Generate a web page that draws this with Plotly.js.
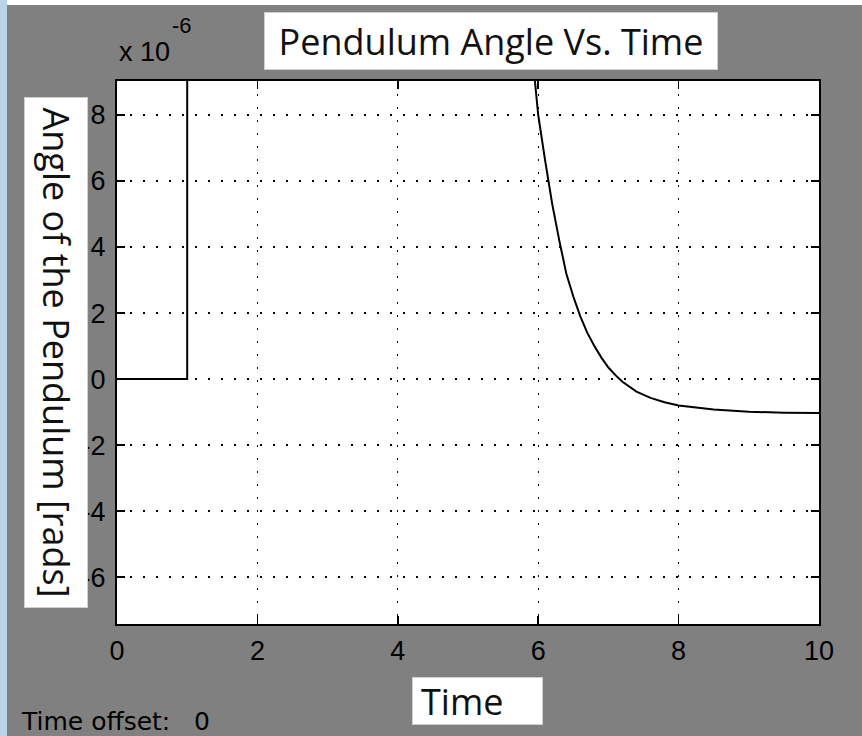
<!DOCTYPE html>
<html>
<head>
<meta charset="utf-8">
<script src="https://cdn.plot.ly/plotly-3.0.1.min.js"></script>
<style>
  html, body { margin: 0; padding: 0; width: 862px; height: 736px; overflow: hidden; background: #ffffff; }
  #strip { position: absolute; left: 0; top: 0; width: 7px; height: 736px; background: #bcd3ec; }
  #chart { position: absolute; left: 7px; top: 5px; width: 855px; height: 731px; }
</style>
</head>
<body>
<div id="strip"></div>
<div id="chart"></div>
<script>
// Time [s] and pendulum angle [x 1e-6 rad]
const stepTime  = [0, 1, 1];
const stepAngle = [0, 0, 12];
const curveTime  = [5.95, 6.0, 6.1, 6.2, 6.3, 6.4, 6.5, 6.6, 6.7, 6.8, 6.9, 7.0, 7.1, 7.2, 7.4, 7.6, 7.8, 8.0, 8.5, 9.0, 9.5, 10];
const curveAngle = [9.1, 8.0, 6.6, 5.3, 4.2, 3.2, 2.5, 1.9, 1.4, 1.0, 0.65, 0.35, 0.12, -0.08, -0.38, -0.57, -0.7, -0.8, -0.92, -0.99, -1.02, -1.03];
const xTicks = [0, 2, 4, 6, 8, 10];
const xTickLabels = ['0', '2', '4', '6', '8', '10'];
const yTicks = [-6, -4, -2, 0, 2, 4, 6, 8];
const yTickLabels = ['-6', '-4', '-2', '0', '2', '4', '6', '8'];

const lineStyle = { color: '#000000', width: 2 };
const traces = [
  { x: stepTime, y: stepAngle, mode: 'lines', line: lineStyle, hoverinfo: 'skip' },
  { x: curveTime, y: curveAngle, mode: 'lines', line: lineStyle, hoverinfo: 'skip' }
];

const tickFont = { family: 'Liberation Sans, Arial, sans-serif', size: 27, color: '#000000' };
const boxFont = { family: 'Open Sans, Noto Sans, sans-serif', size: 36, color: '#111111' };

const axisCommon = {
  showline: true, linecolor: '#000000', linewidth: 2, mirror: 'ticks',
  ticks: 'inside', ticklen: 8, tickwidth: 1.5, tickcolor: '#000000',
  showgrid: true, gridcolor: '#000000', gridwidth: 1.3, griddash: '2px,11px',
  zeroline: false, tickfont: tickFont, fixedrange: true
};

const layout = {
  width: 855, height: 731,
  margin: { l: 110, r: 43, t: 76, b: 112 },
  paper_bgcolor: '#808080', plot_bgcolor: '#ffffff',
  showlegend: false,
  xaxis: Object.assign({}, axisCommon, {
    range: [0, 10], tickvals: xTicks, ticktext: xTickLabels, ticklabelstandoff: 2
  }),
  yaxis: Object.assign({}, axisCommon, {
    range: [-7.42, 9.03], tickvals: yTicks, ticktext: yTickLabels, ticklabelstandoff: 4
  }),
  annotations: [
    { text: 'Pendulum Angle Vs. Time', xref: 'paper', yref: 'paper',
      x: (491 - 117) / 702, y: 1 + (81 - 41) / 543, xanchor: 'center', yanchor: 'middle',
      showarrow: false, font: boxFont, bgcolor: '#ffffff', bordercolor: '#d0d0d0', borderwidth: 1,
      width: 450, height: 54 },
    { text: 'Angle of the Pendulum [rads]', xref: 'paper', yref: 'paper',
      x: (56.5 - 117) / 702, y: (624 - 352.5) / 543, xanchor: 'center', yanchor: 'middle',
      textangle: 90, showarrow: false, font: boxFont, bgcolor: '#ffffff', bordercolor: '#d0d0d0', borderwidth: 1,
      width: 507, height: 60 },
    { text: 'Time', xref: 'paper', yref: 'paper',
      x: (477.5 - 117) / 702, y: -(701 - 624) / 543, xanchor: 'center', yanchor: 'middle',
      showarrow: false, font: boxFont, bgcolor: '#ffffff', bordercolor: '#d0d0d0', borderwidth: 1,
      align: 'left', width: 113, height: 30, borderpad: 8 },
    { text: 'x 10', xref: 'paper', yref: 'paper',
      x: (117 - 117) / 702, y: 1 + (81 - 52) / 543, xanchor: 'left', yanchor: 'middle',
      showarrow: false, font: { family: 'Liberation Sans, Arial, sans-serif', size: 27, color: '#000000' } },
    { text: '-6', xref: 'paper', yref: 'paper',
      x: (170 - 117) / 702, y: 1 + (81 - 25) / 543, xanchor: 'left', yanchor: 'middle',
      showarrow: false, font: { family: 'Liberation Sans, Arial, sans-serif', size: 22, color: '#000000' } },
    { text: 'Time offset:\u00a0\u00a0\u00a00', xref: 'paper', yref: 'paper',
      x: (19 - 117) / 702, y: -(721 - 624) / 543, xanchor: 'left', yanchor: 'middle',
      showarrow: false, font: { family: 'DejaVu Sans, sans-serif', size: 25, color: '#000000' } }
  ]
};

Plotly.newPlot('chart', traces, layout, { staticPlot: true, displayModeBar: false });
</script>
</body>
</html>
